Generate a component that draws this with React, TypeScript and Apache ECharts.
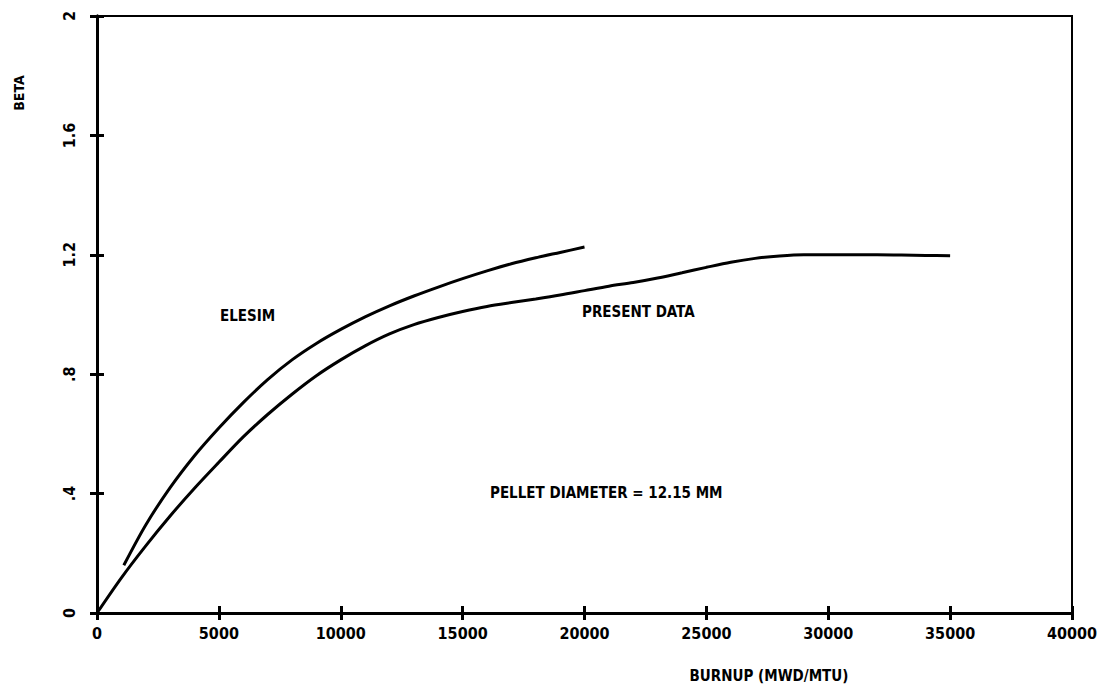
import React, { useEffect, useRef } from "react";
import * as echarts from "echarts";

const xTicks = [0, 5000, 10000, 15000, 20000, 25000, 30000, 35000, 40000];
const yTicks = [0, 0.4, 0.8, 1.2, 1.6, 2];

const elesimX = [1100, 2000, 3000, 4000, 5000, 6000, 7000, 8000, 9000, 10000, 11000, 12000, 13000, 14000, 15000, 16000, 17000, 18000, 19000, 20000];
const elesimY = [0.16, 0.295, 0.42, 0.527, 0.62, 0.705, 0.782, 0.848, 0.903, 0.95, 0.992, 1.029, 1.062, 1.092, 1.12, 1.146, 1.17, 1.19, 1.208, 1.226];

const presentX = [0, 1000, 2000, 3000, 4000, 5000, 6000, 7000, 8000, 9000, 10000, 11000, 12000, 13000, 14000, 15000, 16000, 17000, 18000, 19000, 20000, 21000, 22000, 23000, 24000, 25000, 26000, 27000, 28000, 29000, 30000, 31000, 32000, 33000, 34000, 35000];
const presentY = [0, 0.118, 0.225, 0.325, 0.418, 0.505, 0.59, 0.665, 0.733, 0.795, 0.848, 0.895, 0.935, 0.966, 0.99, 1.01, 1.027, 1.04, 1.052, 1.065, 1.08, 1.095, 1.107, 1.122, 1.14, 1.158, 1.175, 1.188, 1.196, 1.2, 1.2, 1.2, 1.2, 1.199, 1.198, 1.197];

const annotations = [
  { text: "ELESIM", x: 212, y: 308 },
  { text: "PRESENT DATA", x: 574, y: 304 },
  { text: "PELLET DIAMETER = 12.15 MM", x: 482, y: 485 },
];

const FONT = "'Liberation Sans Narrow', 'DejaVu Sans Condensed', 'DejaVu Sans', sans-serif";

const fmtY = (v: number) => {
  if (!yTicks.some((t) => Math.abs(t - v) < 1e-9)) return "";
  if (v === 0) return "0";
  if (v === 2) return "2";
  const s = v.toFixed(1);
  return s.startsWith("0") ? s.slice(1) : s;
};

export default function App() {
  const ref = useRef<HTMLDivElement>(null);
  useEffect(() => {
    if (!ref.current) return;
    const chart = echarts.init(ref.current, undefined, { renderer: "svg" });
    const labelStyle = { color: "#000", fontFamily: FONT, fontWeight: "bold" as const, fontSize: 16 };
    const xBase = {
      type: "value" as const,
      min: 0,
      max: 40000,
      interval: 5000,
      splitLine: { show: false },
      axisLine: { show: true, onZero: false, lineStyle: { color: "#000", width: 3 } },
    };
    const yBase = {
      type: "value" as const,
      min: 0,
      max: 2,
      interval: 0.4,
      splitLine: { show: false },
      axisLine: { show: true, onZero: false, lineStyle: { color: "#000", width: 3 } },
    };
    chart.setOption({
      animation: false,
      backgroundColor: "#fff",
      grid: {
        left: 89,
        right: 40,
        top: 8,
        bottom: 78,
        show: true,
        borderColor: "#000",
        borderWidth: 2,
        containLabel: false,
      },
      xAxis: [
        {
          ...xBase,
          position: "bottom",
          axisTick: { show: true, inside: false, length: 7, lineStyle: { color: "#000", width: 3 } },
          axisLabel: { ...labelStyle, margin: 12, formatter: (v: number) => (xTicks.includes(v) ? String(v) : "") },
        },
        {
          ...xBase,
          position: "bottom",
          axisTick: { show: true, inside: true, length: 7, lineStyle: { color: "#000", width: 3 } },
          axisLabel: { show: false },
        },
      ],
      yAxis: [
        {
          ...yBase,
          position: "left",
          axisTick: { show: true, inside: false, length: 7, lineStyle: { color: "#000", width: 3 } },
          axisLabel: { ...labelStyle, rotate: 90, margin: 20, formatter: (v: number) => fmtY(v) },
        },
        {
          ...yBase,
          position: "left",
          axisTick: { show: true, inside: true, length: 7, lineStyle: { color: "#000", width: 3 } },
          axisLabel: { show: false },
        },
      ],
      graphic: [
        {
          type: "text",
          x: 11,
          y: 85,
          rotation: Math.PI / 2,
          style: { text: "BETA", ...labelStyle, fontSize: 14, fill: "#000", align: "center", verticalAlign: "middle" },
        },
        {
          type: "text",
          x: 761,
          y: 668,
          style: { text: "BURNUP (MWD/MTU)", ...labelStyle, fontSize: 15, fill: "#000", align: "center", verticalAlign: "middle" },
        },
        ...annotations.map((a) => ({
          type: "text",
          x: a.x,
          y: a.y,
          style: { text: a.text, ...labelStyle, fontSize: 15, fill: "#000", align: "left", verticalAlign: "middle" },
        })),
      ],
      series: [
        {
          name: "ELESIM",
          type: "line",
          smooth: 0.3,
          showSymbol: false,
          data: elesimX.map((x, i) => [x, elesimY[i]]),
          lineStyle: { color: "#000", width: 3 },
        },
        {
          name: "PRESENT DATA",
          type: "line",
          smooth: 0.3,
          showSymbol: false,
          data: presentX.map((x, i) => [x, presentY[i]]),
          lineStyle: { color: "#000", width: 3 },
        },
      ],
    });
    return () => chart.dispose();
  }, []);
  return <div ref={ref} style={{ width: 1104, height: 683 }} />;
}
